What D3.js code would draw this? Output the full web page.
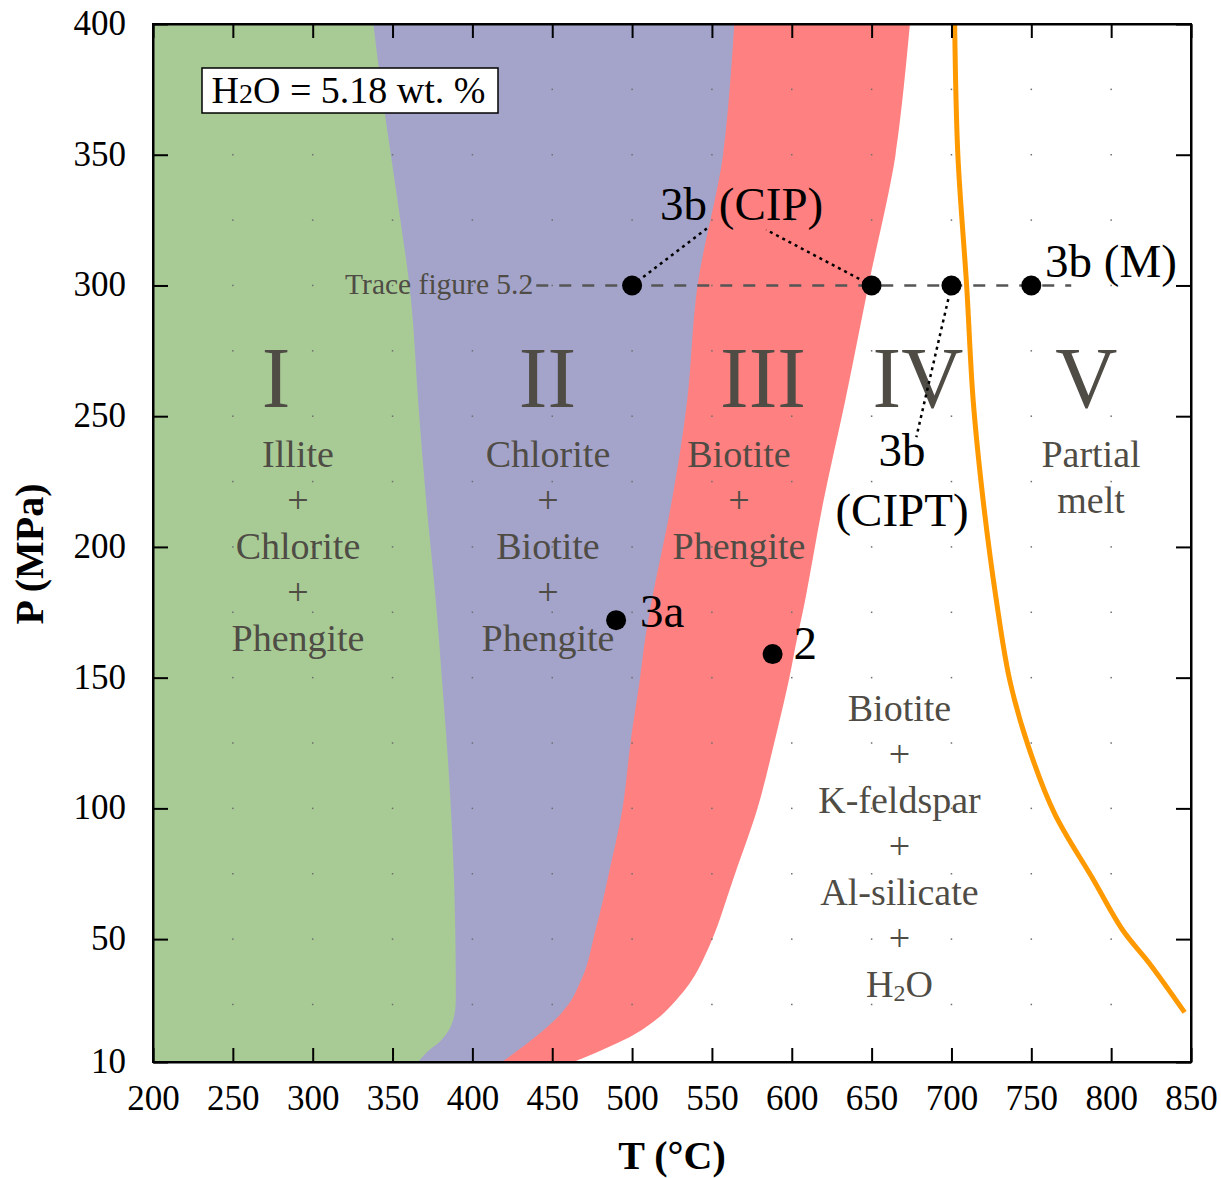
<!DOCTYPE html>
<html>
<head>
<meta charset="utf-8">
<script src="https://cdn.jsdelivr.net/npm/d3@7"></script>
<style>
  body { margin: 0; background: #fff; }
  svg { display: block; }
  text { font-family: "Liberation Serif", "Times New Roman", serif; }
</style>
</head>
<body>
<svg id="chart" width="1221" height="1178"></svg>
<script>
// ---- data -------------------------------------------------------------
// Temperature (°C) and pressure (MPa) axis ticks
const tempTicks = [200, 250, 300, 350, 400, 450, 500, 550, 600, 650, 700, 750, 800, 850];
const pressureTicks = [3, 50, 100, 150, 200, 250, 300, 350, 400];
const pressureTickLabels = ["10", "50", "100", "150", "200", "250", "300", "350", "400"];

// Phase-field boundaries, [T, P] from high to low pressure
const illiteOut = [[338,400],[344,371],[353,333],[361.5,295],[366,256],[371,218],[377,180],[382,141],
  [385.5,111],[388.5,73],[389.6,34],[389,22],[386,16],[380,11],[372,7],[366,3]];
const chloriteOut = [[564,400],[557,350],[541,300],[534.5,256],[525,218],[512.5,180],[508,164],
  [505,150],[499,125],[494,100],[485.4,75],[481.8,65],[476.6,52.2],[471.4,39.4],[467.2,33.1],
  [462,26.7],[454.7,21],[444.7,15.2],[432.2,9.1],[418.4,3]];
const phengiteOut = [[674,400],[665,350],[648,300],[633.5,256],[620,218],[608.5,180],[603,164],
  [598.5,150],[589,125],[578.5,100],[564.5,75],[559,65],[551.7,52.2],[542.3,39.4],[536.1,33.1],
  [527.7,26.7],[517.3,20.3],[502.7,14],[486,8.9],[471.4,5],[463,3]];
// Solidus (onset of partial melting)
const solidus = [[702,400],[704,350],[709.5,300],[713.6,256],[719.8,218],[728,180],[736.5,149],
  [748,124],[764.6,98],[788.6,73],[807.3,53.4],[824,40.7],[846,22]];

// Trace at 300 MPa and sampled P-T points
const traceP = 300;
const traceRange = [440, 775];
const traceT = [500, 650, 700, 750];
const sample3a = [490, 172];
const sample2 = [588, 159];

// Field names and assemblages
const fieldNumerals = ["I", "II", "III", "IV", "V"];
const fieldI = ["Illite", "+", "Chlorite", "+", "Phengite"];
const fieldII = ["Chlorite", "+", "Biotite", "+", "Phengite"];
const fieldIII = ["Biotite", "+", "Phengite"];
const fieldIV = ["Biotite", "+", "K-feldspar", "+", "Al-silicate", "+", "H2O"];
const fieldV = ["Partial", "melt"];

// ---- layout -----------------------------------------------------------
const svg = d3.select("#chart");
const x = d3.scaleLinear().domain([200, 850]).range([153, 1191]);
const y = d3.scaleLinear().domain([3, 400]).range([1062, 24]);
const [x0, x1] = x.range();
const [yB, yT] = y.range();
const labelGray = "#4f4c45";

svg.append("defs").append("clipPath").attr("id", "plotClip")
  .append("rect").attr("x", x0).attr("y", yT).attr("width", x1 - x0).attr("height", yB - yT);

const plot = svg.append("g").attr("clip-path", "url(#plotClip)");

// ---- phase fields ----------------------------------------------------
const bLine = d3.line().x(d => x(d[0])).y(d => y(d[1])).curve(d3.curveCatmullRom.alpha(0.5));
const leftOf = b => `M${x0},${yT}` + bLine(b).replace(/^M/, "L") + `L${x0},${yB}Z`;

plot.append("path").attr("d", leftOf(phengiteOut)).attr("fill", "#ff8080");
plot.append("path").attr("d", leftOf(chloriteOut)).attr("fill", "#a4a4cb");
plot.append("path").attr("d", leftOf(illiteOut)).attr("fill", "#a8cb96");

// dotted grid
const gridT = d3.range(250, 850, 50);
const gridP = d3.range(25, 400, 25);
plot.append("g").selectAll("rect")
  .data(d3.cross(gridT, gridP))
  .join("rect")
  .attr("x", d => x(d[0]) - 0.75).attr("y", d => y(d[1]) - 0.75)
  .attr("width", 1.5).attr("height", 1.5).attr("fill", "#6e6e6e");

// solidus
plot.append("path").attr("d", bLine(solidus))
  .attr("fill", "none").attr("stroke", "#ff9900").attr("stroke-width", 5);

// ---- axes -------------------------------------------------------------
const bottom = svg.append("g").attr("transform", `translate(0,${yB})`)
  .call(d3.axisBottom(x).tickValues(tempTicks).tickSize(-14).tickSizeOuter(0).tickPadding(0));
bottom.selectAll("text").attr("y", 48).attr("dy", null).attr("font-size", 35).attr("fill", "#000");

const left = svg.append("g").attr("transform", `translate(${x0},0)`)
  .call(d3.axisLeft(y).tickValues(pressureTicks).tickSize(-15).tickSizeOuter(0).tickPadding(27)
    .tickFormat((d, i) => pressureTickLabels[i]));
left.selectAll("text").attr("dy", "0.3em").attr("font-size", 35).attr("fill", "#000");

svg.append("g").attr("transform", `translate(0,${yT})`)
  .call(d3.axisTop(x).tickValues(tempTicks).tickSize(-14).tickSizeOuter(0).tickFormat(""));
svg.append("g").attr("transform", `translate(${x1},0)`)
  .call(d3.axisRight(y).tickValues(pressureTicks).tickSize(-15).tickSizeOuter(0).tickFormat(""));

svg.selectAll(".tick line").attr("stroke", "#000").attr("stroke-width", 2);
svg.selectAll(".domain").attr("stroke", "#000").attr("stroke-width", 2);
svg.append("rect").attr("x", x0).attr("y", yT).attr("width", x1 - x0).attr("height", yB - yT)
  .attr("fill", "none").attr("stroke", "#000").attr("stroke-width", 2);

svg.append("text").attr("x", (x0 + x1) / 2).attr("y", 1169).attr("text-anchor", "middle")
  .attr("font-size", 40).attr("font-weight", "bold").text("T (°C)");
svg.append("text").attr("transform", "translate(43,554) rotate(-90)").attr("text-anchor", "middle")
  .attr("font-size", 40).attr("font-weight", "bold").text("P (MPa)");

// ---- field labels ----------------------------------------------------
const numeralT = [277, 447, 582, 679, 784.5];
fieldNumerals.forEach((n, i) => {
  svg.append("text").attr("x", x(numeralT[i])).attr("y", 407).attr("text-anchor", "middle")
    .attr("font-size", 86).attr("fill", labelGray).text(n);
});

function stack(lines, cx, y0) {
  lines.forEach((s, i) => {
    const t = svg.append("text").attr("x", cx).attr("y", y0 + i * 46)
      .attr("text-anchor", "middle").attr("font-size", 38).attr("fill", labelGray);
    if (s === "H2O") {
      t.append("tspan").text("H");
      t.append("tspan").attr("font-size", 24).attr("dy", 4).text("2");
      t.append("tspan").attr("dy", -4).text("O");
    } else t.text(s);
  });
}
stack(fieldI, 298, 467);
stack(fieldII, 548, 467);
stack(fieldIII, 739, 467);
stack(fieldIV, 899.5, 720.5);
stack(fieldV, 1091, 467);

// ---- trace at 300 MPa -----------------------------------------------
svg.append("line")
  .attr("x1", x(traceRange[0])).attr("x2", x(traceRange[1]))
  .attr("y1", y(traceP)).attr("y2", y(traceP))
  .attr("stroke", "#555").attr("stroke-width", 2.5).attr("stroke-dasharray", "12,11");
svg.append("text").attr("x", x(traceRange[0]) - 3).attr("y", y(traceP) + 9)
  .attr("text-anchor", "end").attr("font-size", 29.5).attr("fill", labelGray).text("Trace figure 5.2");

// callout leaders
const leaders = [
  [[traceT[0], traceP], [548.6, 322.6]],
  [[traceT[1], traceP], [584, 321.3]],
  [[traceT[2], traceP], [678, 242]]
];
leaders.forEach(([a, b]) => {
  svg.append("line").attr("x1", x(a[0])).attr("y1", y(a[1])).attr("x2", x(b[0])).attr("y2", y(b[1]))
    .attr("stroke", "#000").attr("stroke-width", 2.5).attr("stroke-dasharray", "3,4");
});

// points
const pts = traceT.map(t => [t, traceP]).concat([sample3a, sample2]);
svg.append("g").selectAll("circle").data(pts).join("circle")
  .attr("cx", d => x(d[0])).attr("cy", d => y(d[1])).attr("r", 10).attr("fill", "#000");

// point labels
const ptLabel = (px, py, s, anchor) => svg.append("text").attr("x", px).attr("y", py)
  .attr("text-anchor", anchor || "start").attr("font-size", 47).attr("fill", "#000").text(s);
ptLabel(660, 220, "3b (CIP)");
ptLabel(1045, 277, "3b (M)");
ptLabel(902, 466, "3b", "middle");
ptLabel(902, 526, "(CIPT)", "middle");
ptLabel(x(sample3a[0]) + 24, y(sample3a[1]) + 7, "3a");
ptLabel(x(sample2[0]) + 21, y(sample2[1]) + 5, "2");

// ---- water content box -----------------------------------------------
svg.append("rect").attr("x", 202).attr("y", 68).attr("width", 296).attr("height", 45)
  .attr("fill", "#fff").attr("stroke", "#000").attr("stroke-width", 1.5);
const h2o = svg.append("text").attr("x", 211.5).attr("y", 102.5).attr("font-size", 38).attr("fill", "#000");
h2o.append("tspan").text("H");
h2o.append("tspan").attr("font-size", 28).text("2");
h2o.append("tspan").text("O = 5.18 wt. %");
</script>
</body>
</html>
